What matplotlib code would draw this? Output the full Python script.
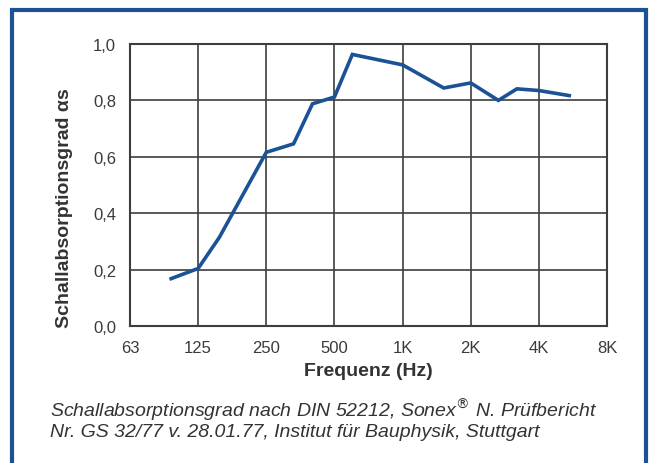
import matplotlib.pyplot as plt
from matplotlib.patches import Rectangle
import numpy as np

# absorption curve
freq = [95, 125, 155, 250, 330, 400, 500, 600, 1000, 1520, 2000, 2650, 3200, 4000, 5450]
alpha = [0.168, 0.204, 0.314, 0.616, 0.646, 0.788, 0.812, 0.963, 0.926, 0.844, 0.862, 0.800, 0.841, 0.835, 0.817]

xticks = [62.5, 125, 250, 500, 1000, 2000, 4000, 8000]
xticklabels = ['63', '125', '250', '500', '1K', '2K', '4K', '8K']
yticks = [0.0, 0.2, 0.4, 0.6, 0.8, 1.0]
yticklabels = ['0,0', '0,2', '0,4', '0,6', '0,8', '1,0']

blue = '#1b5296'
grid_col = '#3d3d3d'
text_col = '#3a3a3a'

plt.rcParams['font.family'] = ['Liberation Sans', 'DejaVu Sans']

fig = plt.figure(figsize=(6.49, 4.64), dpi=100)
W, H = 649, 464
# axes box in pixels: left 130, right 607, top 45, bottom 327
ax = fig.add_axes([130 / W, 1 - 327 / H, (607 - 130) / W, (327 - 45) / H])

ax.plot(freq, alpha, color=blue, lw=2.6, solid_joinstyle='miter', zorder=3)

ax.set_xscale('log', base=2)
ax.set_xlim(62.5, 8000)
ax.set_ylim(0, 1.0)
ax.set_xticks(xticks)
ax.set_xticklabels(xticklabels)
ax.xaxis.set_minor_locator(plt.NullLocator())
ax.set_yticks(yticks)
ax.set_yticklabels(yticklabels)
ax.grid(True, color=grid_col, lw=1.2)
ax.tick_params(length=0, labelsize=12, colors=text_col, pad=10)
for s in ax.spines.values():
    s.set_color(grid_col)
    s.set_linewidth(1.5)

ax.set_xlabel('Frequenz (Hz)', fontsize=14, fontweight='bold', color='#333333', labelpad=5)
ax.set_ylabel('Schallabsorptionsgrad αs', fontsize=14, fontweight='bold', color='#333333')
ax.yaxis.set_label_coords(-0.12, 0.42)

fig.text(50 / W, 1 - 410 / H, 'Schallabsorptionsgrad nach DIN 52212, Sonex$^{®}$ N. Prüfbericht',
         fontsize=14, style='italic', color='#333333', va='center', ha='left')
fig.text(50 / W, 1 - 433 / H, 'Nr. GS 32/77 v. 28.01.77, Institut für Bauphysik, Stuttgart',
         fontsize=14, style='italic', color='#333333', va='center', ha='left')

# blue frame around the whole graphic (bottom runs off the picture)
fig.patches.append(Rectangle((12 / W, -0.05), (646 - 12) / W, 1.05 - 11 / H,
                             transform=fig.transFigure, fill=False,
                             edgecolor=blue, lw=3))

fig.savefig('out.png', dpi=100)
